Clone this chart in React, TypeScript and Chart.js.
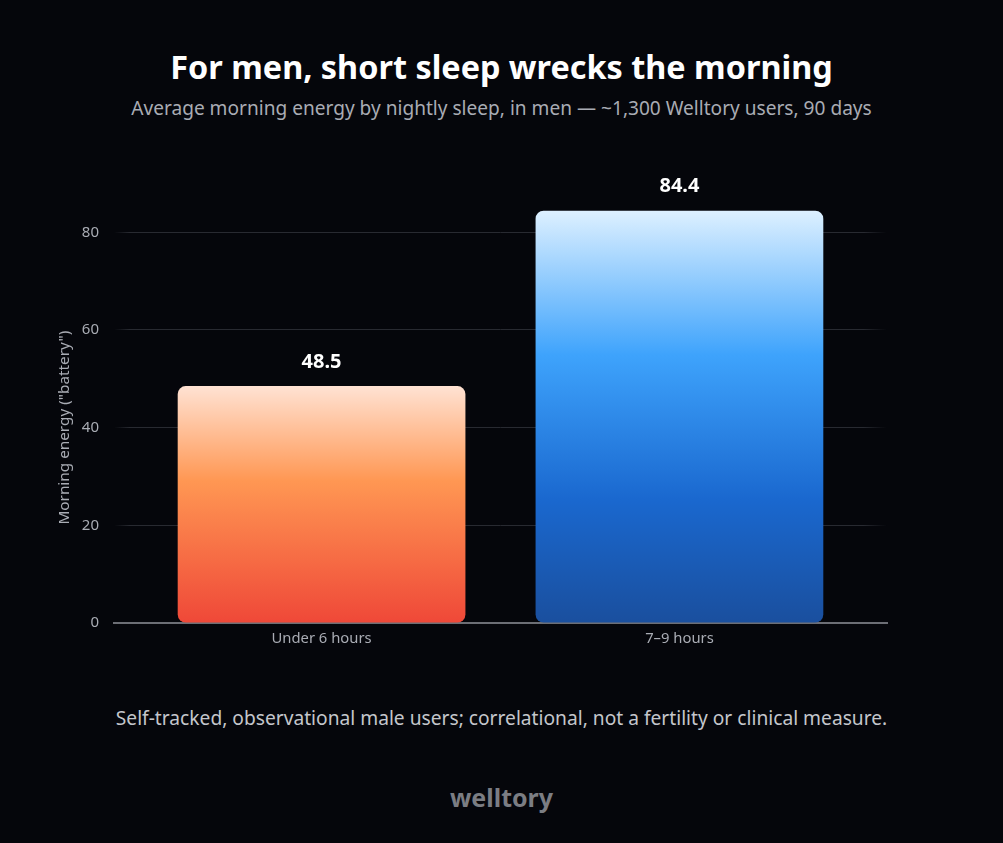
import React, { useEffect, useRef } from "react";
import { Chart, registerables } from "chart.js";

Chart.register(...registerables);

const categories = ["Under 6 hours", "7–9 hours"];
const energyValues = [48.5, 84.4];
const yTicks = [0, 20, 40, 60, 80];
const valueLabels = ["48.5", "84.4"];

const FONT = "'Noto Sans', Roboto, sans-serif";

export default function App() {
  const ref = useRef<HTMLCanvasElement | null>(null);

  useEffect(() => {
    document.body.style.margin = "0";
    const canvas = ref.current;
    if (!canvas) return;

    const gradientStops = [
      [
        [0, "#ffe2d3"],
        [0.4, "#ff9753"],
        [1, "#ef4838"],
      ],
      [
        [0, "#ddf0ff"],
        [0.35, "#3ea3fc"],
        [0.7, "#1a68cf"],
        [1, "#1a4f9e"],
      ],
    ] as [number, string][][];

    const valueLabelPlugin = {
      id: "valueLabels",
      afterDatasetsDraw(chart: any) {
        const ctx = chart.ctx;
        const meta = chart.getDatasetMeta(0);
        ctx.save();
        ctx.fillStyle = "#ffffff";
        ctx.font = `bold 20px ${FONT}`;
        ctx.textAlign = "center";
        ctx.textBaseline = "middle";
        meta.data.forEach((el: any, i: number) => {
          ctx.fillText(valueLabels[i], el.x, el.y - 24);
        });
        ctx.restore();
      },
    };

    const yTitlePlugin = {
      id: "yTitle",
      afterDraw(chart: any) {
        const ctx = chart.ctx;
        const y = chart.scales.y.getPixelForValue(40);
        ctx.save();
        ctx.translate(65, y);
        ctx.rotate(-Math.PI / 2);
        ctx.fillStyle = "#a9acb4";
        ctx.font = `15.3px ${FONT}`;
        ctx.textAlign = "center";
        ctx.textBaseline = "middle";
        ctx.fillText('Morning energy ("battery")', 0, 0);
        ctx.restore();
      },
    };

    const chart = new Chart(canvas, {
      type: "bar",
      data: {
        datasets: [
          {
            data: categories.map((_, i) => ({ x: i, y: energyValues[i] })),
            backgroundColor: (c: any) => {
              const ch = c.chart;
              const area = ch.chartArea;
              const i = c.dataIndex ?? 0;
              if (!area || !ch.scales.y) return gradientStops[i][0][1];
              const top = ch.scales.y.getPixelForValue(energyValues[i]);
              const bottom = ch.scales.y.getPixelForValue(0);
              const g = ch.ctx.createLinearGradient(0, top, 0, bottom);
              gradientStops[i].forEach(([o, col]) => g.addColorStop(o, col));
              return g;
            },
            borderRadius: 8,
            borderSkipped: false,
            barPercentage: 0.804,
            categoryPercentage: 1,
          },
        ],
      },
      options: {
        responsive: false,
        animation: false,
        maintainAspectRatio: false,
        layout: { padding: { left: 0, right: 116, top: 13, bottom: 0 } },
        plugins: {
          legend: { display: false },
          tooltip: { enabled: false },
        },
        scales: {
          x: {
            type: "linear",
            offset: false,
            min: -0.58,
            max: 1.58,
            afterBuildTicks: (s: any) => {
              s.ticks = categories.map((_, i) => ({ value: i }));
            },
            afterFit: (s: any) => {
              s.height = 42;
            },
            ticks: {
              callback: (v: any) => categories[Number(v)] ?? "",
              color: "#a9acb4",
              font: { family: FONT, size: 14.8 },
              padding: 7,
              maxRotation: 0,
              autoSkip: false,
            },
            grid: { display: false, drawTicks: false },
            border: { display: true, color: "#6c6e75", width: 2 },
          },
          y: {
            min: 0,
            max: 95,
            afterBuildTicks: (s: any) => {
              s.ticks = yTicks.map((v) => ({ value: v }));
            },
            afterFit: (s: any) => {
              s.width = 114;
            },
            ticks: {
              color: "#a9acb4",
              font: { family: FONT, size: 15 },
              padding: 15,
            },
            grid: {
              drawTicks: false,
              lineWidth: 1,
              color: (c: any) => {
                if (c.tick && c.tick.value === 0) return "rgba(0,0,0,0)";
                const area = c.chart.chartArea;
                if (!area) return "#26282f";
                const g = c.chart.ctx.createLinearGradient(area.left, 0, area.right, 0);
                g.addColorStop(0, "rgba(40,42,49,0)");
                g.addColorStop(0.02, "rgba(40,42,49,1)");
                g.addColorStop(0.97, "rgba(40,42,49,1)");
                g.addColorStop(1, "rgba(40,42,49,0)");
                return g;
              },
            },
            border: { display: false },
          },
        },
      },
      plugins: [valueLabelPlugin, yTitlePlugin],
    } as any);

    return () => chart.destroy();
  }, []);

  const text = (top: number, size: number, color: string, weight: number, content: string) => (
    <div
      style={{
        position: "absolute",
        left: 0,
        width: 1003,
        top,
        textAlign: "center",
        fontFamily: FONT,
        fontSize: size,
        fontWeight: weight,
        color,
        lineHeight: "1",
        whiteSpace: "nowrap",
      }}
    >
      {content}
    </div>
  );

  return (
    <div
      style={{
        position: "relative",
        width: 1003,
        height: 843,
        background: "#05060b",
        overflow: "hidden",
      }}
    >
      {text(50, 32.4, "#ffffff", 700, "For men, short sleep wrecks the morning")}
      {text(99, 19.1, "#a9acb4", 400, "Average morning energy by nightly sleep, in men — ~1,300 Welltory users, 90 days")}
      <canvas
        ref={ref}
        width={1003}
        height={530}
        style={{ position: "absolute", left: 0, top: 135, width: 1003, height: 530 }}
      />
      {text(708, 19.2, "#c4c6cc", 400, "Self-tracked, observational male users; correlational, not a fertility or clinical measure.")}
      {text(785, 25, "#7b7d83", 700, "welltory")}
    </div>
  );
}
